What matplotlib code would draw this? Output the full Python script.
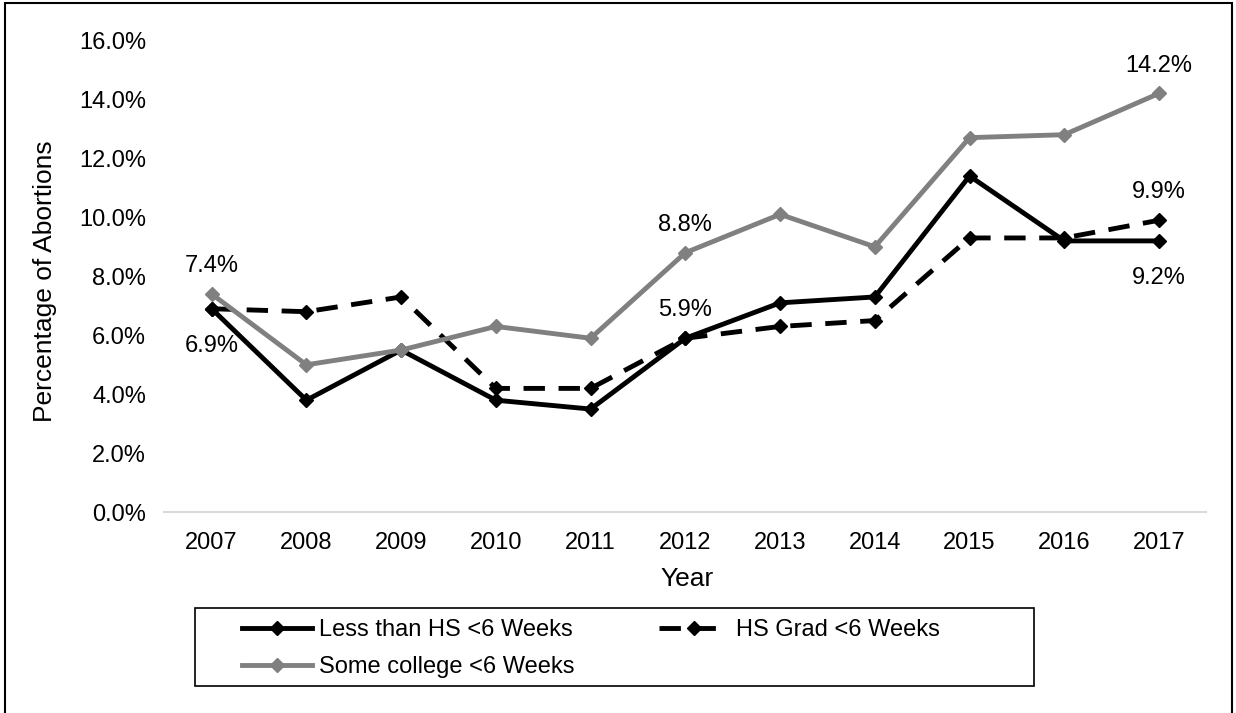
import matplotlib
matplotlib.use("Agg")
import matplotlib.pyplot as plt
from matplotlib.patches import Rectangle
from matplotlib.ticker import FuncFormatter

years = ['2007', '2008', '2009', '2010', '2011', '2012',
         '2013', '2014', '2015', '2016', '2017']
less_than_hs = [6.9, 3.8, 5.5, 3.8, 3.5, 5.9, 7.1, 7.3, 11.4, 9.2, 9.2]
hs_grad = [6.9, 6.8, 7.3, 4.2, 4.2, 5.9, 6.3, 6.5, 9.3, 9.3, 9.9]
some_college = [7.4, 5.0, 5.5, 6.3, 5.9, 8.8, 10.1, 9.0, 12.7, 12.8, 14.2]
series_names = ['Less than HS <6 Weeks', 'HS Grad <6 Weeks', 'Some college <6 Weeks']

# (series index, year index, above?)
point_labels = [(2, 0, True), (0, 0, False), (2, 5, True), (0, 5, True),
                (2, 10, True), (1, 10, True), (0, 10, False)]

plt.rcParams['font.family'] = ['Liberation Sans', 'DejaVu Sans']
FS = 17

W, H = 1236, 713
fig = plt.figure(figsize=(W / 100, H / 100), dpi=100)
ax = fig.add_axes([164.3 / W, 1 - 512.3 / H, (1206.4 - 164.3) / W, (512.3 - 40.3) / H])

x = list(range(len(years)))
all_series = [less_than_hs, hs_grad, some_college]
styles = [dict(color='black', linestyle='-'),
          dict(color='black', linestyle=(0, (4.4, 2.8)), dash_capstyle='butt'),
          dict(color='#808080', linestyle='-')]
lines = []
for vals, name, st in zip(all_series, series_names, styles):
    ln, = ax.plot(x, vals, lw=3.5, marker='D', markersize=7.5,
                  markerfacecolor=st['color'], markeredgecolor=st['color'],
                  label=name, solid_joinstyle='miter', **st)
    lines.append(ln)

for s, i, above in point_labels:
    v = all_series[s][i]
    ax.annotate(f'{v:.1f}%', (x[i], v), xytext=(0, 20 if above else -27),
                textcoords='offset points', ha='center', va='center', fontsize=FS)

ax.set_xlim(-0.5, len(years) - 0.5)
ax.set_ylim(0, 16)
ax.set_yticks(range(0, 17, 2))
ax.yaxis.set_major_formatter(FuncFormatter(lambda v, p: f'{v:.1f}%'))
ax.set_xticks(x)
ax.set_xticklabels(years)
ax.tick_params(axis='both', length=0, labelsize=FS)
ax.tick_params(axis='x', pad=14)
ax.tick_params(axis='y', pad=13)
for sp in ['top', 'right', 'left']:
    ax.spines[sp].set_visible(False)
ax.spines['bottom'].set_color('#d9d9d9')
ax.spines['bottom'].set_linewidth(1.5)

fig.text(45 / W, 1 - 281 / H, 'Percentage of Abortions', rotation=90,
         ha='center', va='center', fontsize=19)
fig.text(687 / W, 1 - 579 / H, 'Year', ha='center', va='center', fontsize=19)

# legend with a separate box like the original
leg_handles = [lines[0], lines[2], lines[1]]
fig.legend(handles=leg_handles, loc='upper left', bbox_to_anchor=(242 / W, 1 - 619 / H),
           ncol=2, frameon=False, fontsize=FS, borderpad=0, borderaxespad=0,
           handlelength=2.95, handletextpad=0.3, columnspacing=3.6, labelspacing=0.65)
fig.patches.append(Rectangle((195 / W, 1 - 686 / H), (1034 - 195) / W, (686 - 608) / H,
                             transform=fig.transFigure, fill=False, edgecolor='black',
                             linewidth=1.2))
fig.patches.append(Rectangle((5 / W, -0.1), (1232 - 5) / W, 1.1 - 3 / H,
                             transform=fig.transFigure, fill=False, edgecolor='black',
                             linewidth=1.5))

fig.savefig('out.png', dpi=100)
